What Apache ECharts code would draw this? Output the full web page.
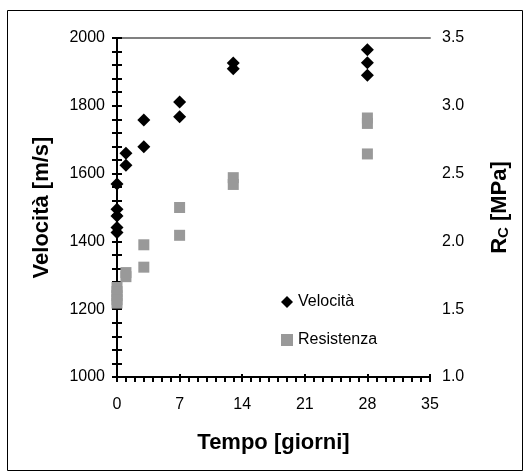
<!DOCTYPE html>
<html>
<head>
<meta charset="utf-8">
<script src="https://cdn.jsdelivr.net/npm/echarts@6/dist/echarts.min.js"></script>
<style>
html,body{margin:0;padding:0;background:#fff;}
#chart{width:531px;height:476px;}
</style>
</head>
<body>
<div id="chart"></div>
<script>
// Tempo [giorni] for each measurement
var velDays = [0, 0, 0, 0, 0, 1, 1, 3, 3, 7, 7, 13, 13, 28, 28, 28];
// Velocità [m/s]
var velValues = [1569, 1495, 1475, 1441, 1426, 1660, 1625, 1758, 1679, 1811, 1768, 1926, 1909, 1965, 1927, 1890];
var resDays = [0, 0, 0, 0, 0, 1, 1, 3, 3, 7, 7, 13, 13, 28, 28, 28];
// Resistenza R_C [MPa]
var resValues = [1.66, 1.63, 1.60, 1.57, 1.545, 1.77, 1.74, 1.975, 1.81, 2.25, 2.045, 2.47, 2.42, 2.91, 2.87, 2.645];
var seriesNames = ['Velocità', 'Resistenza'];
var xTitle = 'Tempo [giorni]';
var yLeftTitle = 'Velocità [m/s]';

function pairs(xs, ys) { return xs.map(function (x, i) { return [x, ys[i]]; }); }

var FONT = 'Liberation Sans, Arial, sans-serif';
var TICK = {color: '#000', width: 2};
var chart = echarts.init(document.getElementById('chart'), null, {renderer: 'canvas'});
chart.setOption({
  animation: false,
  backgroundColor: '#fff',
  grid: {left: 117, right: 101, top: 38, bottom: 99, containLabel: false},
  graphic: [{
    type: 'rect', shape: {x: 7.5, y: 10.5, width: 515, height: 460},
    style: {fill: 'none', stroke: '#000', lineWidth: 1}, silent: true, z: -10
  }],
  legend: {
    orient: 'vertical', left: 276, top: 289, itemGap: 22,
    itemWidth: 12, itemHeight: 12,
    textStyle: {fontFamily: FONT, fontSize: 16, color: '#000'},
    data: [{name: seriesNames[0], icon: 'diamond'}, {name: seriesNames[1], icon: 'rect'}]
  },
  xAxis: [{
    type: 'value', min: 0, max: 35, interval: 7, position: 'bottom',
    name: xTitle, nameLocation: 'middle', nameGap: 55,
    nameTextStyle: {fontFamily: FONT, fontSize: 22, fontWeight: 'bold', color: '#000'},
    axisLine: {lineStyle: {color: '#000', width: 2}},
    axisTick: {show: true, length: 5, lineStyle: TICK},
    minorTick: {show: true, splitNumber: 7, length: 5, lineStyle: TICK},
    axisLabel: {fontFamily: FONT, fontSize: 16, color: '#000', margin: 20},
    splitLine: {show: false}
  }, {
    type: 'value', min: 0, max: 35, position: 'top',
    axisLine: {show: true, lineStyle: {color: '#808080', width: 2}},
    axisTick: {show: false}, axisLabel: {show: false}, splitLine: {show: false}
  }, {
    type: 'value', min: 0, max: 35, interval: 7, position: 'bottom', offset: 0,
    axisLine: {show: false},
    axisTick: {show: true, inside: true, length: 3, lineStyle: TICK},
    axisLabel: {show: false}, splitLine: {show: false}
  }],
  yAxis: [{
    type: 'value', min: 1000, max: 2000, interval: 200, position: 'left',
    name: yLeftTitle, nameLocation: 'middle', nameGap: 64, nameRotate: 90,
    nameTextStyle: {fontFamily: FONT, fontSize: 22, fontWeight: 'bold', color: '#000'},
    axisLine: {show: true, lineStyle: {color: '#000', width: 2}},
    axisTick: {show: true, length: 5, lineStyle: TICK},
    minorTick: {show: true, splitNumber: 5, length: 5, lineStyle: TICK},
    axisLabel: {fontFamily: FONT, fontSize: 16, color: '#000', margin: 12,
      formatter: function (v) { return String(v); }},
    splitLine: {show: false}
  }, {
    type: 'value', min: 1, max: 3.5, interval: 0.5, position: 'right',
    name: 'R{sub|C} [MPa]', nameLocation: 'middle', nameGap: 58, nameRotate: 90,
    nameTextStyle: {fontFamily: FONT, fontSize: 22, fontWeight: 'bold', color: '#000',
      rich: {sub: {fontFamily: FONT, fontSize: 15, fontWeight: 'bold', color: '#000', verticalAlign: 'bottom', padding: [8, 0, 0, 0]}}},
    axisLine: {show: true, lineStyle: {color: '#000', width: 2}},
    axisTick: {show: true, length: 5, lineStyle: TICK},
    minorTick: {show: true, splitNumber: 5, length: 5, lineStyle: TICK},
    axisLabel: {fontFamily: FONT, fontSize: 16, color: '#000', margin: 12,
      formatter: function (v) { return v.toFixed(1); }},
    splitLine: {show: false}
  }],
  series: [{
    name: seriesNames[1], type: 'scatter', xAxisIndex: 0, yAxisIndex: 1,
    symbol: 'rect', symbolSize: 11,
    itemStyle: {color: '#999999', opacity: 1},
    data: pairs(resDays, resValues), z: 3
  }, {
    name: seriesNames[0], type: 'scatter', xAxisIndex: 0, yAxisIndex: 0,
    symbol: 'diamond', symbolSize: 13,
    itemStyle: {color: '#000000', opacity: 1},
    data: pairs(velDays, velValues), z: 4
  }]
});
</script>
</body>
</html>
